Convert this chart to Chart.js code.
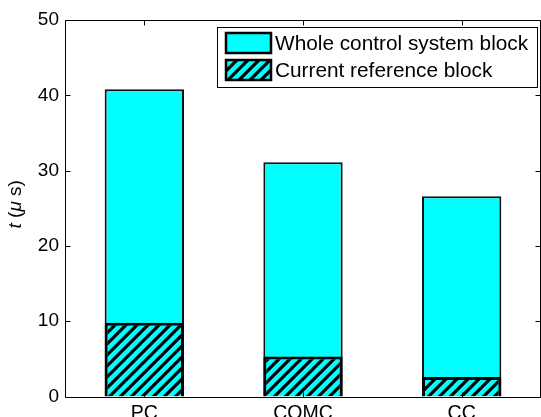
<!DOCTYPE html>
<html>
<head>
<meta charset="utf-8">
<script src="https://cdn.jsdelivr.net/npm/chart.js@4.4.1/dist/chart.umd.min.js"></script>
<style>
html,body{margin:0;padding:0;background:#fff;}
#wrap{width:541px;height:417px;}
</style>
</head>
<body>
<div id="wrap"><canvas id="c" width="541" height="417"></canvas></div>
<script>
const categories = ['PC', 'COMC', 'CC'];
const wholeBlock = [40.8, 31.1, 26.6];
const currentRefBlock = [9.8, 5.3, 2.6];
const seriesLabels = ['Whole control system block', 'Current reference block'];
const yTicks = [0, 10, 20, 30, 40, 50];

const FONT = 'Arial, "Liberation Sans", Helvetica, sans-serif';
const CYAN = '#00ffff';

function makeHatch() {
  const s = 11;
  const c = document.createElement('canvas');
  c.width = s; c.height = s;
  const g = c.getContext('2d');
  g.fillStyle = CYAN;
  g.fillRect(0, 0, s, s);
  g.strokeStyle = '#000';
  g.lineWidth = 3.2;
  g.lineCap = 'square';
  g.beginPath();
  g.moveTo(-2, s + 2); g.lineTo(s + 2, -2);
  g.moveTo(-2 - s, s + 2); g.lineTo(2, -2);
  g.moveTo(s - 2, s + 2); g.lineTo(2 * s + 2, -2);
  g.stroke();
  return g.createPattern(c, 'repeat');
}
const hatch = makeHatch();

const framePlugin = {
  id: 'frame',
  afterDatasetsDraw(chart) {
    const ctx = chart.ctx;
    const a = chart.chartArea;
    const ys = chart.scales.y, xs = chart.scales.x;
    ctx.save();
    ctx.strokeStyle = '#000';
    ctx.lineWidth = 1;
    const L = Math.round(a.left) + 0.5, R = Math.round(a.right) - 0.5;
    const T = Math.round(a.top) + 0.5, B = Math.round(a.bottom) + 0.5;
    ctx.beginPath();
    ctx.rect(L, T, R - L, B - T);
    yTicks.forEach(v => {
      const y = Math.round(ys.getPixelForValue(v)) + 0.5;
      ctx.moveTo(L, y); ctx.lineTo(L + 5, y);
      ctx.moveTo(R, y); ctx.lineTo(R - 5, y);
    });
    categories.forEach((c, i) => {
      const x = Math.round(xs.getPixelForValue(i)) + 0.5;
      ctx.moveTo(x, T); ctx.lineTo(x, T + 5);
      ctx.moveTo(x, B); ctx.lineTo(x, B - 5);
    });
    ctx.stroke();
    ctx.restore();
  },
  afterDraw(chart) {
    const ctx = chart.ctx;
    const a = chart.chartArea;
    ctx.save();
    const parts = [
      ['t', 'italic 19px ' + FONT],
      [' (', '19px ' + FONT],
      ['\u03bc', 'italic 19px ' + FONT],
      [' s)', '19px ' + FONT]
    ];
    let total = 0;
    parts.forEach(p => { ctx.font = p[1]; total += ctx.measureText(p[0]).width; });
    ctx.translate(16, (a.top + a.bottom) / 2 - 4);
    ctx.rotate(-Math.PI / 2);
    ctx.fillStyle = '#000';
    ctx.textBaseline = 'middle';
    ctx.textAlign = 'left';
    let x = -total / 2;
    parts.forEach(p => { ctx.font = p[1]; ctx.fillText(p[0], x, 0); x += ctx.measureText(p[0]).width; });
    ctx.restore();

    ctx.save();
    const bx = 217.5, by = 27.5, bw = 320, bh = 60;
    ctx.fillStyle = '#fff';
    ctx.fillRect(bx, by, bw, bh);
    ctx.strokeStyle = '#000';
    ctx.lineWidth = 1;
    ctx.strokeRect(bx, by, bw, bh);
    chart.data.datasets.forEach((ds, i) => {
      const sy = 33 + i * 27;
      ctx.fillStyle = ds.backgroundColor;
      ctx.fillRect(226, sy, 45, 20);
      ctx.lineWidth = 2.5;
      ctx.strokeStyle = '#000';
      ctx.strokeRect(226, sy, 45, 20);
      ctx.fillStyle = '#000';
      ctx.font = '20.8px ' + FONT;
      ctx.textBaseline = 'middle';
      ctx.textAlign = 'left';
      ctx.fillText(ds.label, 275, sy + 11);
    });
    ctx.restore();
  }
};

new Chart(document.getElementById('c'), {
  type: 'bar',
  data: {
    labels: categories,
    datasets: [
      {
        label: seriesLabels[0],
        data: wholeBlock,
        backgroundColor: CYAN,
        borderColor: '#111',
        borderWidth: 2,
        grouped: false,
        order: 2,
        barPercentage: 0.5,
        categoryPercentage: 1.0
      },
      {
        label: seriesLabels[1],
        data: currentRefBlock,
        backgroundColor: hatch,
        borderColor: '#000',
        borderWidth: 3,
        grouped: false,
        order: 1,
        barPercentage: 0.5,
        categoryPercentage: 1.0
      }
    ]
  },
  options: {
    responsive: false,
    animation: false,
    devicePixelRatio: 1,
    layout: { padding: { top: 20, right: 0, left: 0, bottom: 0 } },
    plugins: { legend: { display: false }, tooltip: { enabled: false }, title: { display: false } },
    scales: {
      x: {
        type: 'category',
        offset: true,
        grid: { display: false, drawTicks: false },
        border: { display: false },
        ticks: { color: '#000', font: { family: FONT, size: 19.5 }, padding: 5.5, maxRotation: 0 },
        afterFit(s) { s.height = 20.5; }
      },
      y: {
        min: 0, max: 50,
        grid: { display: false, drawTicks: false },
        border: { display: false },
        ticks: { color: '#000', font: { family: FONT, size: 19 }, padding: 6, stepSize: 10,
          callback: (v) => yTicks.includes(v) ? String(v) : '' },
        afterFit(s) { s.width = 65; }
      }
    }
  },
  plugins: [framePlugin]
});
</script>
</body>
</html>
